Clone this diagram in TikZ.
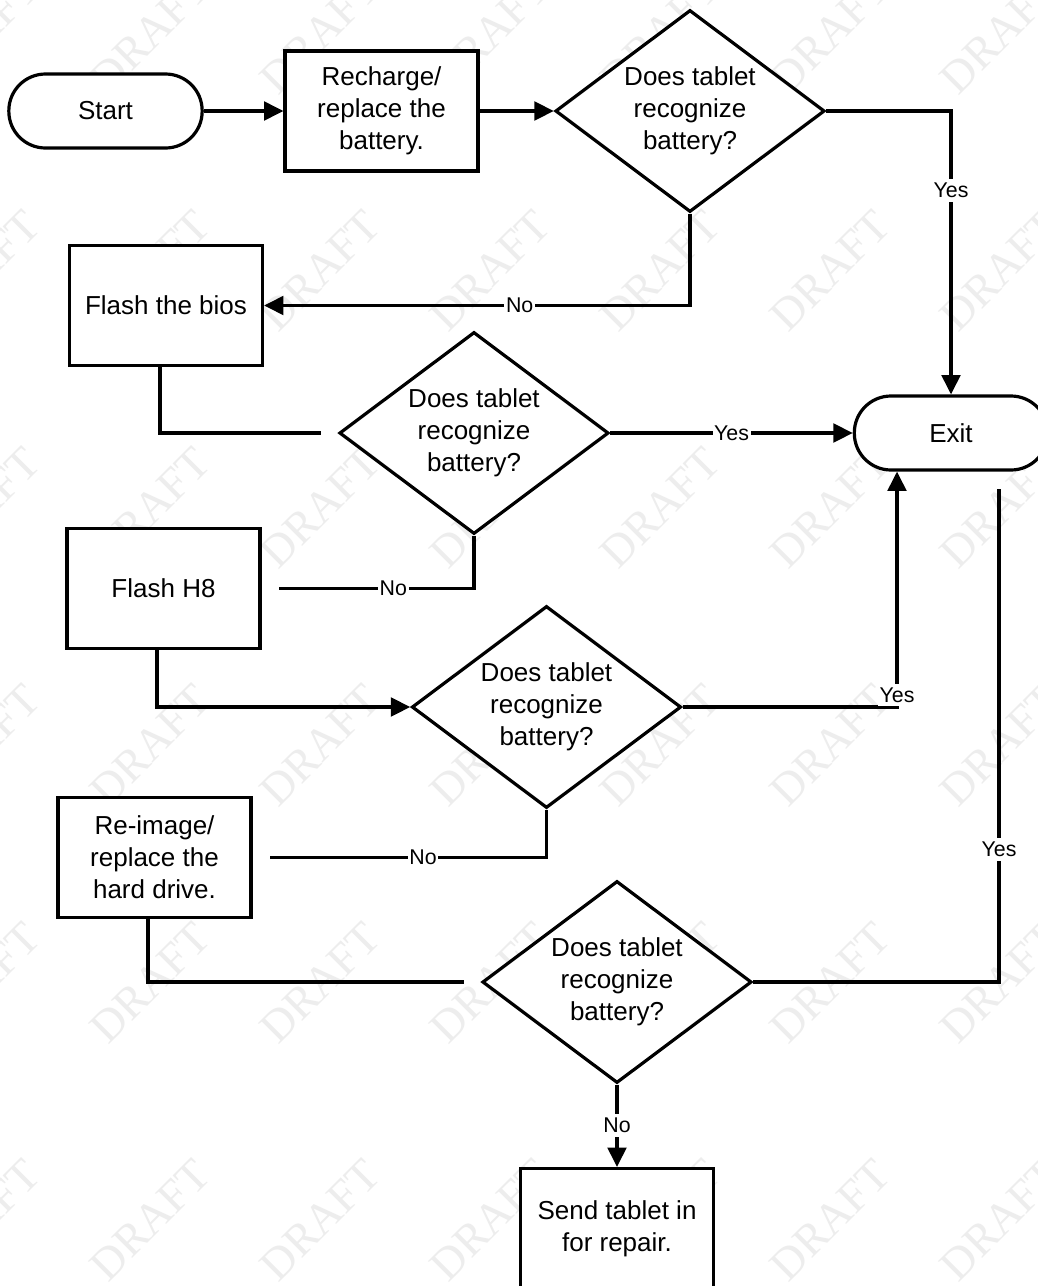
\documentclass[tikz,border=0pt]{standalone}
\usepackage{fontspec}
\setmainfont{Liberation Sans}
\newfontfamily\wmfont{Liberation Serif}
\usetikzlibrary{shapes.geometric,arrows.meta}
\begin{document}
\begin{tikzpicture}[x=0.75pt,y=-0.75pt,
  base/.style={draw=black, line width=2.4pt, fill=white, font=\fontsize{19.5}{24}\selectfont, align=center},
  term/.style={base, rectangle, rounded corners=27.5pt, minimum width=145pt, minimum height=55.5pt, inner sep=0pt},
  procbox/.style={base, rectangle, minimum width=144.75pt, minimum height=90pt, inner sep=0pt},
  decision/.style={base, diamond, aspect=1.34, minimum width=202pt, minimum height=151.5pt, inner sep=0pt},
  conn/.style={line width=2.4pt, line join=miter},
  arr/.style={conn, -{Triangle[length=14.5pt,width=14pt]}},
  gapline/.style={conn, shorten >=12.75pt},
  lbl/.style={fill=white, font=\fontsize{16}{19}\selectfont, inner xsep=1.2pt, inner ysep=3pt},
  wm/.style={font=\wmfont\fontsize{34}{34}\selectfont, text=black!7, rotate=45}
]
\fill[white] (0,0) rectangle (1038,1286);
\useasboundingbox (0,0) rectangle (1038,1286);
% watermark
\foreach \i in {0,...,6}{\foreach \j in {0,...,5}{
  \node[wm] (wm\i\j) at ({-20+170*\i},{33+237.4*\j}) {DRAFT};}}
% nodes
\node[term] (start) at (105.5,111) {Start};
\node[procbox] (recharge) at (381.5,111) {Recharge/\\replace the\\battery.};
\node[decision] (d1) at (690,111) {Does tablet\\recognize\\battery?};
\node[term] (exit) at (951,433) {Exit};
\node[procbox] (bios) at (166,305.5) {Flash the bios};
\node[decision] (d2) at (474,433) {Does tablet\\recognize\\battery?};
\node[procbox] (h8) at (163.5,588.5) {Flash H8};
\node[decision] (d3) at (546.5,707) {Does tablet\\recognize\\battery?};
\node[procbox] (reimg) at (154.5,857.5) {Re-image/\\replace the\\hard drive.};
\node[decision] (d4) at (617,982) {Does tablet\\recognize\\battery?};
\node[procbox] (send) at (617,1228.5) {Send tablet in\\for repair.};
% connectors
\draw[arr] (start.east) -- (recharge.west);
\draw[arr] (recharge.east) -- (d1.west);
\draw[arr] (d1.east) -| node[lbl, pos=0.64] {Yes} (exit.north);
\draw[arr] (d1.south) |- node[lbl, pos=0.70] {No} (bios.east);
\draw[gapline] ([xshift=-4.5pt]bios.south) |- (d2.west);
\draw[arr] (d2.east) -- node[lbl] {Yes} (exit.west);
\draw[gapline] (d2.south) |- node[lbl, pos=0.69] {No} (h8.east);
\draw[arr] ([xshift=-4.9pt]h8.south) |- (d3.west);
\draw[arr] (d3.east) -| node[lbl, pos=0.5, yshift=9pt] {Yes} ([xshift=-40.5pt]exit.south);
\draw[gapline] (d3.south) |- node[lbl, pos=0.71] {No} (reimg.east);
\draw[gapline] ([xshift=-4.9pt]reimg.south) |- (d4.west);
\draw[gapline] (d4.east) -| node[lbl, pos=0.63] {Yes} ([xshift=36pt]exit.south);
\draw[arr] (d4.south) -- node[lbl] {No} (send.north);
\end{tikzpicture}
\end{document}
